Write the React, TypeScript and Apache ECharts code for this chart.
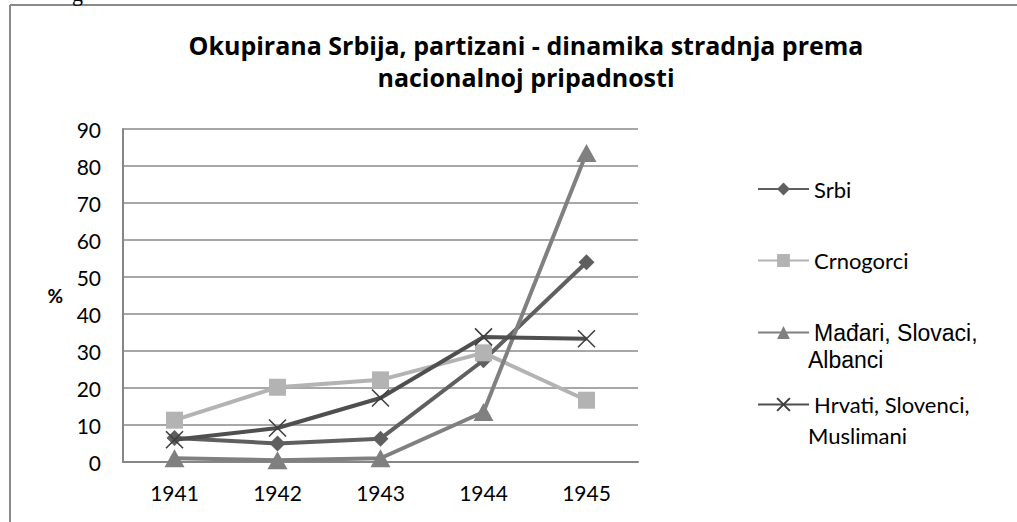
import React, { useEffect, useRef } from "react";
import * as echarts from "echarts";

const years = ["1941", "1942", "1943", "1944", "1945"];
const srbi = [6.5, 5, 6.3, 27.5, 54];
const crnogorci = [11.3, 20.2, 22.2, 29.5, 16.7];
const madjari = [1, 0.5, 1, 13.5, 83.5];
const hrvati = [6, 9.2, 17.3, 33.8, 33.3];
const seriesNames = ["Srbi", "Crnogorci", "Mađari, Slovaci, Albanci", "Hrvati, Slovenci, Muslimani"];
const legendFirstLines: Record<string, string> = {
  "Srbi": "{c|Srbi}",
  "Crnogorci": "{c|Crnogorci}",
  "Mađari, Slovaci, Albanci": "{a|Mađari, Slovaci,}",
  "Hrvati, Slovenci, Muslimani": "{c|Hrvati, Slovenci,}",
};
const legendSecondLines = ["Albanci", "Muslimani"];
const titleText = "Okupirana Srbija, partizani - dinamika stradnja prema\nnacionalnoj pripadnosti";

const X_PATH = "path://M0,0L10,10M10,0L0,10";

export default function App() {
  const ref = useRef<HTMLDivElement>(null);
  useEffect(() => {
    if (!ref.current) return;
    const chart = echarts.init(ref.current, undefined, { renderer: "svg" });
    const calFont = 'Lato, "Open Sans", sans-serif';
    const arialFont = '"Liberation Sans", Arial, sans-serif';
    const mk = (name: string, data: number[], color: string, symbol: string, size: number | number[], z: number) => ({
      type: "line",
      name,
      data,
      symbol,
      symbolSize: size,
      showSymbol: true,
      lineStyle: { color, width: 4 },
      itemStyle: { color },
      z,
    });
    chart.setOption({
      animation: false,
      backgroundColor: "#ffffff",
      grid: { left: 123, right: 379, top: 129, bottom: 60, containLabel: false },
      xAxis: {
        type: "category",
        data: years,
        boundaryGap: true,
        axisLine: { show: true, lineStyle: { color: "#868686", width: 2 } },
        axisTick: { show: false },
        axisLabel: { color: "#000", fontFamily: calFont, fontSize: 21, margin: 20 },
        splitLine: { show: false },
      },
      yAxis: {
        type: "value",
        min: 0,
        max: 90,
        interval: 10,
        name: "%",
        nameLocation: "middle",
        nameRotate: 0,
        nameGap: 60,
        nameTextStyle: { color: "#000", fontFamily: calFont, fontSize: 19, fontWeight: "bold" },
        axisLine: { show: true, lineStyle: { color: "#868686", width: 2 } },
        axisTick: { show: false },
        axisLabel: { color: "#000", fontFamily: calFont, fontSize: 21, margin: 22 },
        splitLine: { show: true, lineStyle: { color: "#8a8a8a", width: 1.6 } },
      },
      legend: {
        orient: "vertical",
        left: 752,
        top: 173,
        itemWidth: 51,
        itemHeight: 16,
        itemGap: 49.5,
        data: seriesNames,
        formatter: (n: string) => legendFirstLines[n] || n,
        textStyle: {
          color: "#000",
          rich: {
            c: { fontFamily: calFont, fontSize: 22, lineHeight: 26, color: "#000" },
            a: { fontFamily: arialFont, fontSize: 23, lineHeight: 26, color: "#000" },
          },
        },
      },
      graphic: [
        { type: "line", shape: { x1: 10, y1: 5, x2: 1017, y2: 5 }, style: { stroke: "#8a8a8a", lineWidth: 2 } },
        { type: "line", shape: { x1: 10, y1: 5, x2: 10, y2: 522 }, style: { stroke: "#8a8a8a", lineWidth: 2 } },
        { type: "text", x: 72, y: -18, style: { text: "g", font: '22px "Liberation Serif", serif', fill: "#000" } },
        {
          type: "text",
          x: 526,
          y: 29,
          style: {
            text: titleText,
            font: 'bold 25px "Open Sans", sans-serif',
            lineHeight: 32,
            align: "center",
            verticalAlign: "top",
            fill: "#000",
          },
        },
        { type: "text", x: 808, y: 360, style: { text: legendSecondLines[0], font: '23px "Liberation Sans", Arial, sans-serif', fill: "#000", verticalAlign: "middle" } },
        { type: "text", x: 808, y: 435, style: { text: legendSecondLines[1], font: '22px Lato, "Open Sans", sans-serif', fill: "#000", verticalAlign: "middle" } },
      ],
      series: [
        mk(seriesNames[0], srbi, "#5f5f5f", "diamond", 16, 2),
        mk(seriesNames[1], crnogorci, "#b3b3b3", "rect", 17, 3),
        mk(seriesNames[2], madjari, "#808080", "triangle", [20, 18], 4),
        {
          type: "line",
          name: seriesNames[3],
          data: hrvati,
          symbol: X_PATH,
          symbolSize: 17,
          lineStyle: { color: "#4f4f4f", width: 4 },
          itemStyle: { color: "rgba(0,0,0,0)", borderColor: "#3f3f3f", borderWidth: 1.6 },
          z: 5,
        },
      ],
    });
    return () => chart.dispose();
  }, []);
  return (
    <div
      ref={ref}
      style={{ position: "fixed", left: 0, top: 0, width: 1017, height: 522, background: "#fff" }}
    />
  );
}
